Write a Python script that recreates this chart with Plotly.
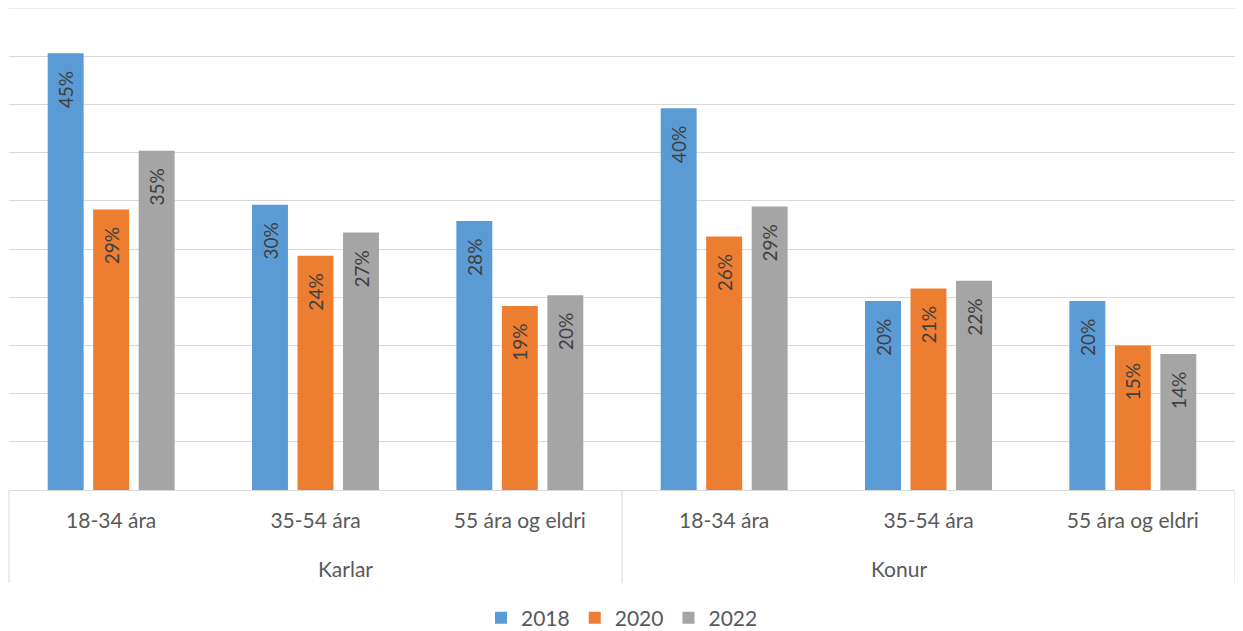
import plotly.graph_objects as go

categories = ["18-34 ára", "35-54 ára", "55 ára og eldri", "18-34 ára", "35-54 ára", "55 ára og eldri"]
groups = ["Karlar", "Konur"]
years = ["2018", "2020", "2022"]
v2018 = [45.3, 29.6, 27.9, 39.6, 19.6, 19.6]
v2020 = [29.1, 24.3, 19.1, 26.3, 20.9, 15.0]
v2022 = [35.2, 26.7, 20.2, 29.4, 21.7, 14.1]
colors = ["#5B9BD5", "#ED7D31", "#A5A5A5"]

FONT = "Lato, 'Open Sans', sans-serif"
TXT = "#595959"

# page body has an 8px margin, so the figure starts at (8, 8)
W, H = 1235, 623
PL, PR, PT, PB = 1, 8, 0, 141
PH = H - PT - PB

fig = go.Figure()
xpos = list(range(len(categories)))
for name, vals, col in zip(years, [v2018, v2020, v2022], colors):
    fig.add_trace(go.Bar(
        x=xpos, y=vals, name=name, marker_color=col, marker_line_width=0,
        texttemplate="%{y:.0f}%\u00a0\u00a0\u00a0", textposition="inside", insidetextanchor="end",
        textangle=-90, insidetextfont=dict(color="#404040", size=19, family=FONT),
        cliponaxis=False,
    ))

fig.update_layout(
    width=W, height=H,
    margin=dict(l=PL, r=PR, t=PT, b=PB, autoexpand=False),
    paper_bgcolor="white", plot_bgcolor="white",
    barmode="group", bargap=0.332, bargroupgap=0.21,
    font=dict(family=FONT, color=TXT, size=21),
    showlegend=True,
    legend=dict(orientation="h", x=0.5, xanchor="center", y=-(618 - 490) / PH, yanchor="middle",
                font=dict(size=21, color=TXT), itemwidth=30, traceorder="normal"),
    uniformtext=dict(mode=False),
)
fig.update_xaxes(
    range=[-0.5, 5.5], tickmode="array", tickvals=xpos, ticktext=categories,
    showline=True, linecolor="#d9d9d9", linewidth=1, ticks="", showgrid=False,
    ticklabelstandoff=12, tickfont=dict(size=21, color=TXT), zeroline=False, automargin=False,
)
fig.update_yaxes(
    range=[0, 50], dtick=5, tick0=0,
    showgrid=True, gridcolor="#d9d9d9", gridwidth=1,
    showticklabels=False, zeroline=False, showline=False, automargin=False,
)

# top gridline at 50 % (plotly omits the gridline at the range edge)
fig.add_shape(type="line", xref="paper", yref="y", x0=0, x1=1, y0=50, y1=50,
              line=dict(color="#d9d9d9", width=1), layer="below")

div_bottom = -(583 - 490) / PH
for xp in [0, 0.5, 1]:
    fig.add_shape(type="line", xref="paper", yref="paper", x0=xp, x1=xp, y0=0, y1=div_bottom,
                  line=dict(color="#d9d9d9", width=1))

lab_y = -(568 - 490) / PH
for i, g in enumerate(groups):
    fig.add_annotation(x=0.25 + 0.5 * i, y=lab_y, xref="paper", yref="paper", text=g,
                       showarrow=False, font=dict(size=21, color=TXT), yanchor="middle")

fig.write_html("out.html")
